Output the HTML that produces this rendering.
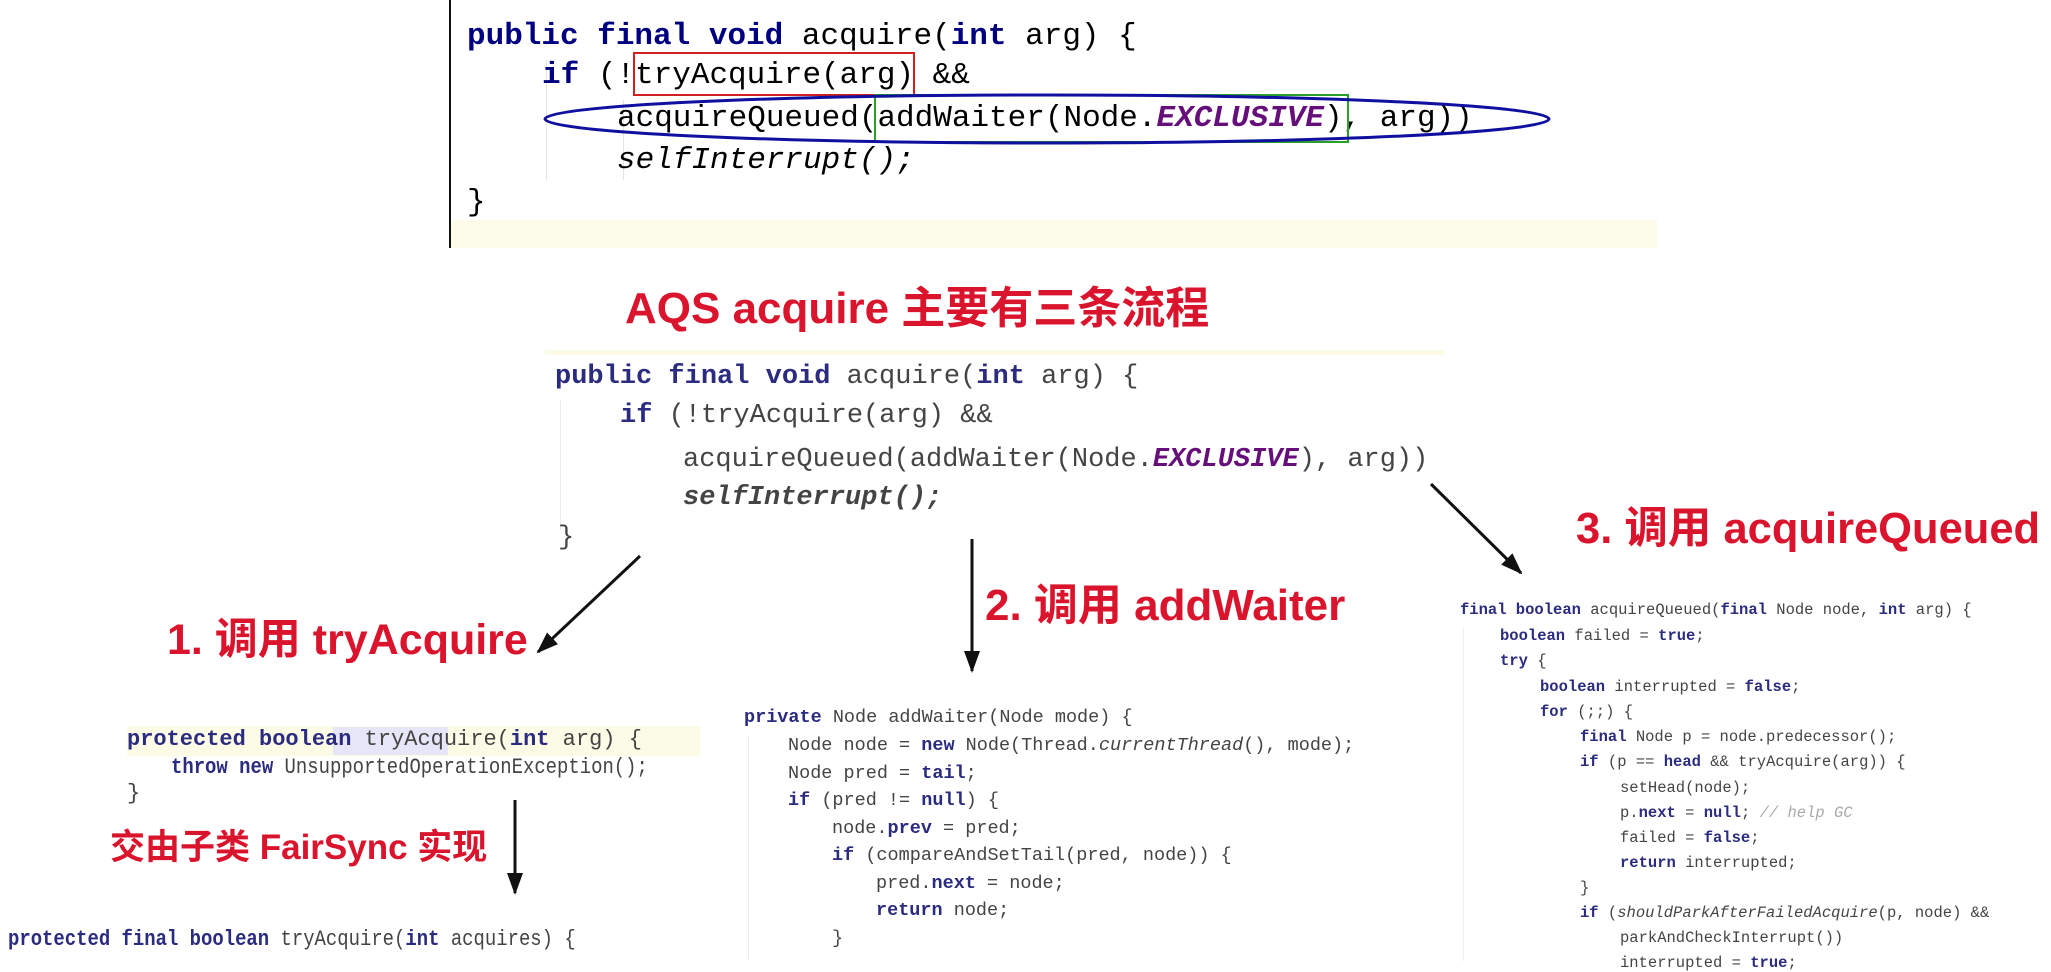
<!DOCTYPE html>
<html><head><meta charset="utf-8">
<style>
html,body{margin:0;padding:0;background:#fff;}
body{width:2051px;height:961px;position:relative;overflow:hidden;font-family:"Liberation Mono",monospace;}
.t{position:absolute;white-space:pre;line-height:1;}
.k{color:#000080;font-weight:bold;}
.p{color:#660e7a;font-weight:bold;font-style:italic;}
.i{font-style:italic;}
.r{position:absolute;white-space:nowrap;color:#d9142c;font-weight:bold;font-family:"Liberation Sans","Noto Sans CJK SC",sans-serif;line-height:1;}
.b{color:#444;}
.b .k{color:#2b2b80;}
</style></head><body>

<!-- top panel -->
<div style="position:absolute;left:449px;top:0;width:2px;height:248px;background:#111"></div>
<div style="position:absolute;left:451px;top:220px;width:1206px;height:28px;background:#fdfbe9"></div>
<div style="position:absolute;left:546px;top:60px;width:1px;height:120px;background:#e4e4e4"></div>
<div style="position:absolute;left:623px;top:100px;width:1px;height:80px;background:#e4e4e4"></div>
<div class="t" style="left:467px;top:21px;font-size:31px"><span class="k">public final void</span> acquire(<span class="k">int</span> arg) {</div>
<div class="t" style="left:542px;top:60px;font-size:31px"><span class="k">if</span> (!tryAcquire(arg) &amp;&amp;</div>
<div class="t" style="left:617px;top:103px;font-size:31px">acquireQueued(addWaiter(Node.<span class="p">EXCLUSIVE</span>), arg))</div>
<div class="t i" style="left:617px;top:145px;font-size:31px">selfInterrupt();</div>
<div class="t" style="left:467px;top:187px;font-size:31px">}</div>
<div style="position:absolute;left:633px;top:52px;width:282px;height:44px;border:2px solid #d02020;box-sizing:border-box"></div>
<div style="position:absolute;left:874px;top:94px;width:475px;height:49px;border:2px solid #2aa02a;box-sizing:border-box"></div>
<svg style="position:absolute;left:0;top:0" width="2051" height="961">
<ellipse cx="1047" cy="119" rx="502" ry="24" fill="none" stroke="#1010a0" stroke-width="3"/>
<defs>
<marker id="m" markerWidth="22" markerHeight="20" refX="20" refY="10" orient="auto" markerUnits="userSpaceOnUse"><path d="M0,2 L22,10 L0,18 z" fill="#111"/></marker></defs>
<line x1="640" y1="556" x2="538" y2="652" stroke="#111" stroke-width="3" marker-end="url(#m)"/>
<line x1="972" y1="539" x2="972" y2="671" stroke="#111" stroke-width="3" marker-end="url(#m)"/>
<line x1="1431" y1="484" x2="1521" y2="573" stroke="#111" stroke-width="3" marker-end="url(#m)"/>
<line x1="515" y1="800" x2="515" y2="893" stroke="#111" stroke-width="3" marker-end="url(#m)"/>
</svg>

<div class="r" style="left:625px;top:287px;font-size:44px">AQS acquire 主要有三条流程</div>

<!-- second code -->
<div style="position:absolute;left:545px;top:350px;width:900px;height:5px;background:#fbfbe8"></div>
<div style="position:absolute;left:560px;top:400px;width:1px;height:130px;background:#ececec"></div>
<div class="t b" style="left:555px;top:364px;font-size:27px"><span class="k">public final void</span> acquire(<span class="k">int</span> arg) {</div>
<div class="t b" style="left:620px;top:403px;font-size:27px"><span class="k">if</span> (!tryAcquire(arg) &amp;&amp;</div>
<div class="t b" style="left:683px;top:447px;font-size:27px">acquireQueued(addWaiter(Node.<span class="p">EXCLUSIVE</span>), arg))</div>
<div class="t b i" style="left:683px;top:485px;font-size:27px;font-weight:bold">selfInterrupt();</div>
<div class="t b" style="left:558px;top:525px;font-size:27px">}</div>

<div class="r" style="left:167px;top:619px;font-size:43px">1. 调用 tryAcquire</div>
<div class="r" style="left:985px;top:584px;font-size:44px">2. 调用 addWaiter</div>
<div class="r" style="left:1576px;top:508px;font-size:43.5px">3. 调用 acquireQueued</div>
<div class="r" style="left:110px;top:830px;font-size:35px">交由子类 FairSync 实现</div>

<!-- tryAcquire block -->
<div style="position:absolute;left:127px;top:726px;width:573px;height:30px;background:#fbfbe6"></div>
<div style="position:absolute;left:333px;top:727px;width:115px;height:28px;background:#e6e6f8"></div>
<div class="t b" style="left:127px;top:729px;font-size:22px"><span class="k">protected boolean</span> tryAcquire(<span class="k">int</span> arg) {</div>
<div class="t b" style="left:171px;top:757px;font-size:22px;transform:scaleX(0.86);transform-origin:0 0"><span class="k">throw new</span> UnsupportedOperationException();</div>
<div class="t b" style="left:127px;top:783px;font-size:22px">}</div>
<div class="t b" style="left:8px;top:929px;font-size:22px;transform:scaleX(0.86);transform-origin:0 0"><span class="k">protected final boolean</span> tryAcquire(<span class="k">int</span> acquires) {</div>

<!-- addWaiter block -->
<div style="position:absolute;left:748px;top:735px;width:1px;height:226px;background:#eee"></div>
<div class="t b" style="left:744px;top:709px;font-size:18.5px"><span class="k">private</span> Node addWaiter(Node mode) {</div>
<div class="t b" style="left:788px;top:737px;font-size:18.5px">Node node = <span class="k">new</span> Node(Thread.<span class="i">currentThread</span>(), mode);</div>
<div class="t b" style="left:788px;top:765px;font-size:18.5px">Node pred = <span class="k">tail</span>;</div>
<div class="t b" style="left:788px;top:792px;font-size:18.5px"><span class="k">if</span> (pred != <span class="k">null</span>) {</div>
<div class="t b" style="left:832px;top:820px;font-size:18.5px">node.<span class="k">prev</span> = pred;</div>
<div class="t b" style="left:832px;top:847px;font-size:18.5px"><span class="k">if</span> (compareAndSetTail(pred, node)) {</div>
<div class="t b" style="left:876px;top:875px;font-size:18.5px">pred.<span class="k">next</span> = node;</div>
<div class="t b" style="left:876px;top:902px;font-size:18.5px"><span class="k">return</span> node;</div>
<div class="t b" style="left:832px;top:930px;font-size:18.5px">}</div>

<!-- acquireQueued block -->
<div style="position:absolute;left:1463px;top:628px;width:1px;height:333px;background:#eee"></div>
<div class="t b" style="left:1460px;top:603px;font-size:15.5px"><span class="k">final boolean</span> acquireQueued(<span class="k">final</span> Node node, <span class="k">int</span> arg) {</div>
<div class="t b" style="left:1500px;top:629px;font-size:15.5px"><span class="k">boolean</span> failed = <span class="k">true</span>;</div>
<div class="t b" style="left:1500px;top:654px;font-size:15.5px"><span class="k">try</span> {</div>
<div class="t b" style="left:1540px;top:680px;font-size:15.5px"><span class="k">boolean</span> interrupted = <span class="k">false</span>;</div>
<div class="t b" style="left:1540px;top:705px;font-size:15.5px"><span class="k">for</span> (;;) {</div>
<div class="t b" style="left:1580px;top:730px;font-size:15.5px"><span class="k">final</span> Node p = node.predecessor();</div>
<div class="t b" style="left:1580px;top:755px;font-size:15.5px"><span class="k">if</span> (p == <span class="k">head</span> &amp;&amp; tryAcquire(arg)) {</div>
<div class="t b" style="left:1620px;top:781px;font-size:15.5px">setHead(node);</div>
<div class="t b" style="left:1620px;top:806px;font-size:15.5px">p.<span class="k">next</span> = <span class="k">null</span>; <span class="i" style="color:#aaa">// help GC</span></div>
<div class="t b" style="left:1620px;top:831px;font-size:15.5px">failed = <span class="k">false</span>;</div>
<div class="t b" style="left:1620px;top:856px;font-size:15.5px"><span class="k">return</span> interrupted;</div>
<div class="t b" style="left:1580px;top:881px;font-size:15.5px">}</div>
<div class="t b" style="left:1580px;top:906px;font-size:15.5px"><span class="k">if</span> (<span class="i">shouldParkAfterFailedAcquire</span>(p, node) &amp;&amp;</div>
<div class="t b" style="left:1620px;top:931px;font-size:15.5px">parkAndCheckInterrupt())</div>
<div class="t b" style="left:1620px;top:956px;font-size:15.5px">interrupted = <span class="k">true</span>;</div>

</body></html>
